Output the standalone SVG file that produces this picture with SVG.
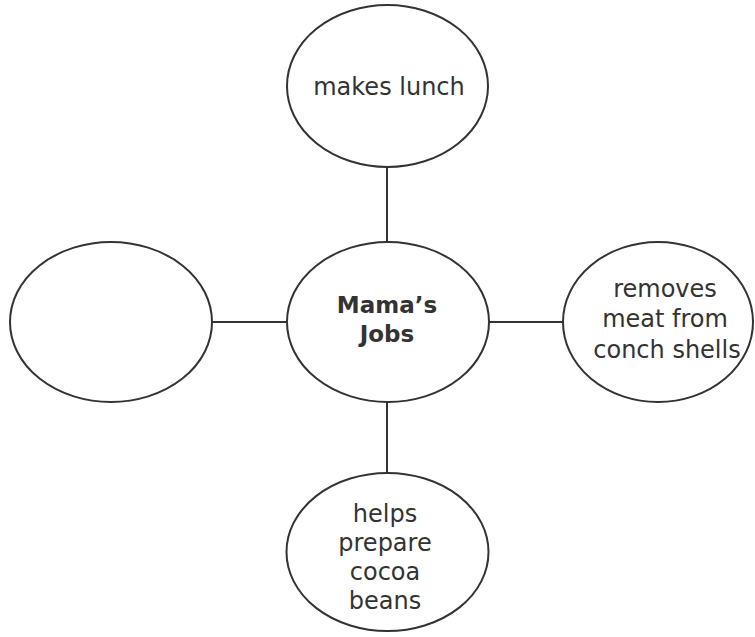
<svg xmlns="http://www.w3.org/2000/svg" width="755" height="637" viewBox="0 0 755 637">
<style>
.node{fill:#fff;stroke:#333;stroke-width:2}
.conn line{stroke:#333;stroke-width:2}
text{font-family:"DejaVu Sans",sans-serif;font-size:24px;fill:#333;text-anchor:middle}
.b{font-weight:bold;font-size:23px}
</style>
<rect width="755" height="637" fill="#fff"/>
<g id="connectors" class="conn">
<line x1="387" y1="167" x2="387" y2="242"/>
<line x1="387" y1="402" x2="387" y2="473"/>
<line x1="212" y1="322" x2="287" y2="322"/>
<line x1="489" y1="322" x2="563" y2="322"/>
</g>
<g id="center">
<ellipse class="node" cx="388" cy="322" rx="101" ry="80"/>
<text class="b" x="387" y="313">Mama’s</text>
<text class="b" x="387" y="342">Jobs</text>
</g>
<g id="top">
<ellipse class="node" cx="387.5" cy="86" rx="100.5" ry="81"/>
<text x="389" y="95">makes lunch</text>
</g>
<g id="left">
<ellipse class="node" cx="111" cy="322" rx="101" ry="80"/>
</g>
<g id="right">
<ellipse class="node" cx="658" cy="322" rx="95" ry="80"/>
<text x="665" y="297">removes</text>
<text x="665" y="327">meat from</text>
<text x="667" y="358">conch shells</text>
</g>
<g id="bottom">
<ellipse class="node" cx="387.5" cy="552" rx="101" ry="79"/>
<text x="385" y="522">helps</text>
<text x="385" y="551">prepare</text>
<text x="385" y="580">cocoa</text>
<text x="385" y="609">beans</text>
</g>
</svg>
